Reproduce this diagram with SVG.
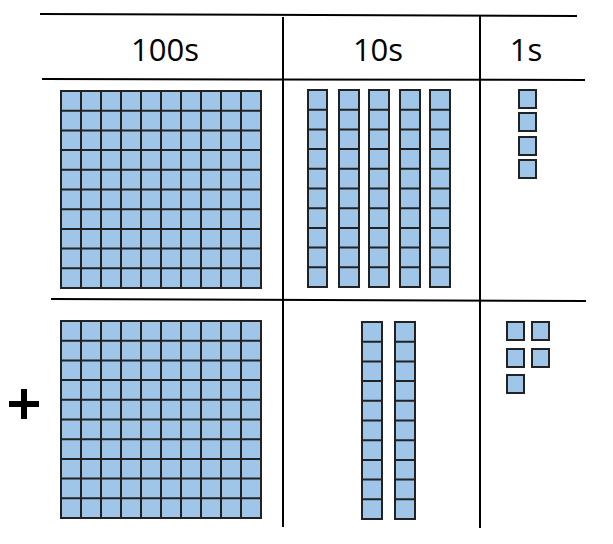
<svg xmlns="http://www.w3.org/2000/svg" width="613" height="544" viewBox="0 0 613 544">
<defs>
<style>
.ln{stroke:#000;stroke-width:2;fill:none}
.c{fill:#9fc5e8;stroke:#222;stroke-width:2}
.h{font-family:"Open Sans","Noto Sans",sans-serif;font-size:31px;fill:#000;text-anchor:middle}
</style>
<pattern id="g100" x="61" y="91" width="20" height="19.7" patternUnits="userSpaceOnUse"><rect x="0" y="0" width="20" height="19.7" class="c"/></pattern>
</defs>
<rect width="613" height="544" fill="#fff"/>
<g id="table">
<line class="ln" x1="40" y1="14" x2="577" y2="16"/>
<line class="ln" x1="42" y1="79" x2="585" y2="80"/>
<line class="ln" x1="51" y1="299" x2="586" y2="301"/>
<line class="ln" x1="283" y1="17" x2="283" y2="527"/>
<line class="ln" x1="480" y1="16" x2="480" y2="528"/>
</g>
<g id="headers">
<text class="h" x="165" y="61">100s</text>
<text class="h" x="378" y="61">10s</text>
<text class="h" x="526" y="61">1s</text>
</g>
<g id="plus"><rect x="9" y="401" width="30" height="6" fill="#000"/><rect x="21" y="389" width="6" height="30" fill="#000"/></g>
<g id="hundred-top">
<rect x="61" y="91" width="200" height="197" class="c"/>
<path stroke="#222" stroke-width="2" d="M81 91V288M101 91V288M121 91V288M141 91V288M161 91V288M181 91V288M201 91V288M221 91V288M241 91V288M61 110.7H261M61 130.4H261M61 150.1H261M61 169.8H261M61 189.5H261M61 209.2H261M61 228.9H261M61 248.6H261M61 268.3H261"/>
</g>
<g id="hundred-bottom">
<rect x="61" y="321" width="200" height="197" class="c"/>
<path stroke="#222" stroke-width="2" d="M81 321V518M101 321V518M121 321V518M141 321V518M161 321V518M181 321V518M201 321V518M221 321V518M241 321V518M61 340.7H261M61 360.4H261M61 380.1H261M61 399.8H261M61 419.5H261M61 439.2H261M61 458.9H261M61 478.6H261M61 498.3H261"/>
</g>
<g id="tens-top">
<g id="tt1"><rect x="308" y="90" width="19" height="197" class="c"/></g>
<g id="tt2"><rect x="339" y="90" width="20" height="197" class="c"/></g>
<g id="tt3"><rect x="369" y="90" width="20" height="197" class="c"/></g>
<g id="tt4"><rect x="400" y="90" width="20" height="197" class="c"/></g>
<g id="tt5"><rect x="430" y="90" width="20" height="197" class="c"/></g>
<path stroke="#222" stroke-width="2" d="M308 109.7H450M308 129.4H450M308 149.1H450M308 168.8H450M308 188.5H450M308 208.2H450M308 227.9H450M308 247.6H450M308 267.3H450" stroke-dasharray="19 12 20 10 20 11 20 10 20 100"/>
</g>
<g id="tens-bottom">
<rect x="362" y="322" width="20" height="197" class="c"/>
<rect x="395" y="322" width="20" height="197" class="c"/>
<path stroke="#222" stroke-width="2" d="M362 341.7H415M362 361.4H415M362 381.1H415M362 400.8H415M362 420.5H415M362 440.2H415M362 459.9H415M362 479.6H415M362 499.3H415" stroke-dasharray="20 13 20 100"/>
</g>
<g id="ones-top">
<rect x="519" y="90" width="17" height="18" class="c"/>
<rect x="519" y="113" width="17" height="18" class="c"/>
<rect x="519" y="137" width="17" height="18" class="c"/>
<rect x="519" y="160" width="17" height="18" class="c"/>
</g>
<g id="ones-bottom">
<rect x="507" y="322" width="17" height="18" class="c"/>
<rect x="532" y="322" width="17" height="18" class="c"/>
<rect x="507" y="349" width="17" height="18" class="c"/>
<rect x="532" y="349" width="17" height="18" class="c"/>
<rect x="507" y="375" width="17" height="18" class="c"/>
</g>
</svg>
